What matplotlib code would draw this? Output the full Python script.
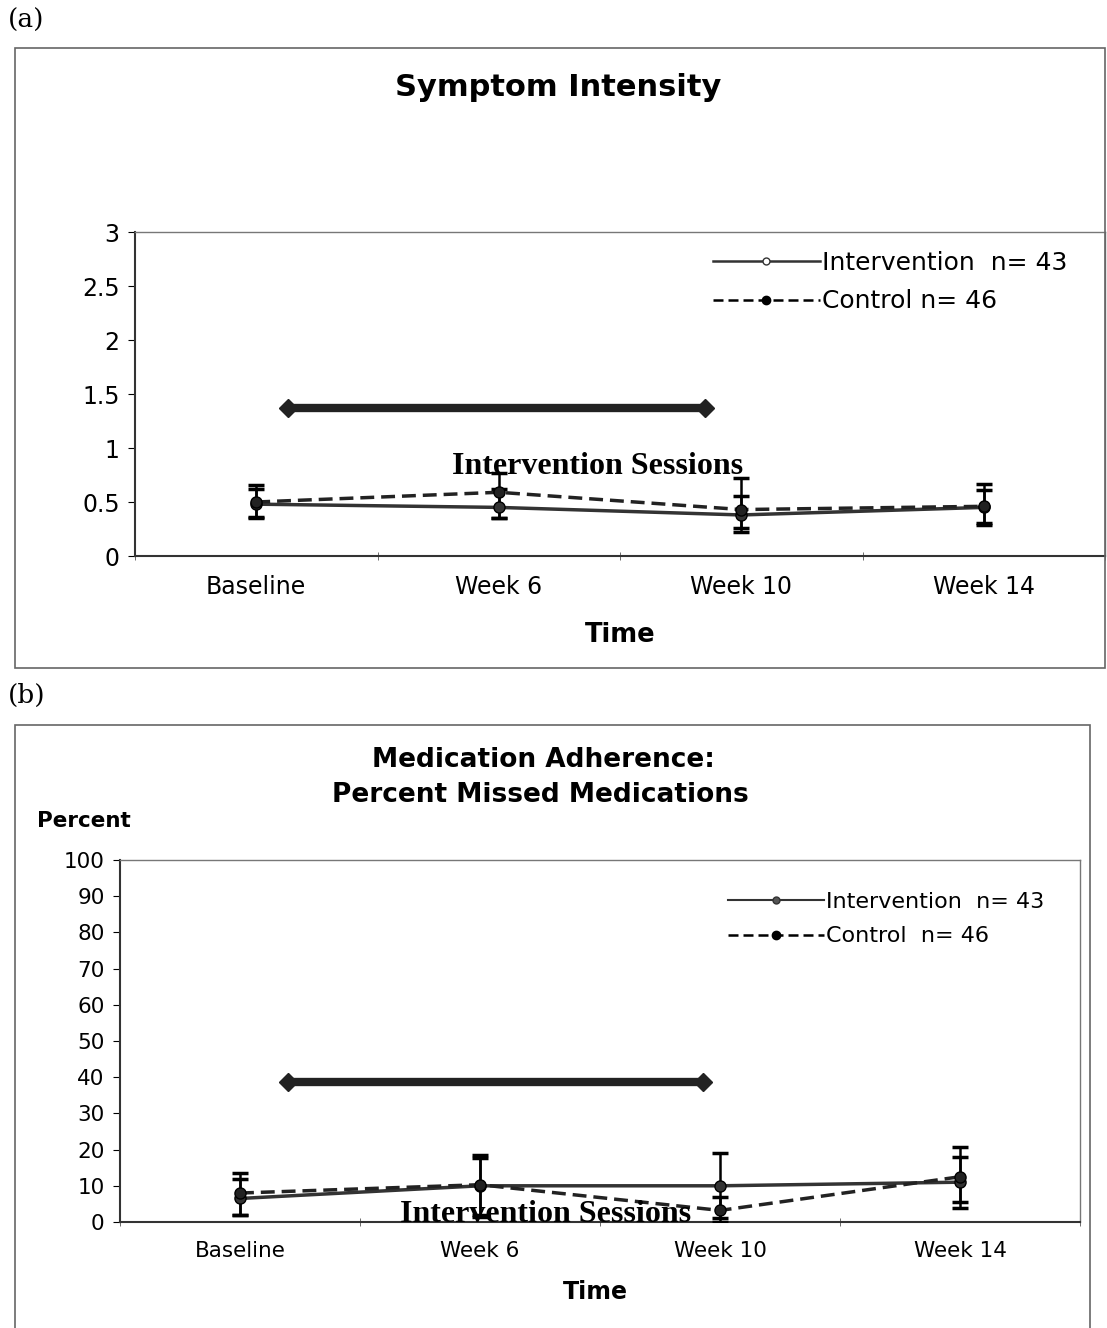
import matplotlib.pyplot as plt
from matplotlib.patches import Rectangle
from matplotlib.lines import Line2D
from matplotlib.ticker import FormatStrFormatter

W, H = 1107, 1328

weeks = ['Baseline', 'Week 6', 'Week 10', 'Week 14']

# (a) symptom intensity
sym_int = [0.48, 0.45, 0.38, 0.45]
sym_int_lo = [0.35, 0.35, 0.26, 0.31]
sym_int_hi = [0.62, 0.62, 0.56, 0.61]
sym_ctl = [0.50, 0.59, 0.43, 0.46]
sym_ctl_lo = [0.36, 0.35, 0.22, 0.29]
sym_ctl_hi = [0.66, 0.77, 0.72, 0.67]
sym_sessions = [0.13, 1.85]
sym_sessions_y = 1.37

# (b) percent missed medications
med_int = [6.5, 10.0, 10.0, 11.0]
med_int_lo = [2.0, 2.0, 1.0, 5.5]
med_int_hi = [12.0, 17.7, 19.0, 18.0]
med_ctl = [8.0, 10.3, 3.2, 12.5]
med_ctl_lo = [2.0, 1.5, 0.0, 4.0]
med_ctl_hi = [13.5, 18.5, 7.0, 20.7]
med_sessions = [0.2, 1.93]
med_sessions_y = 38.7


def px(x, y):
    return x / W, 1 - y / H


def box(x0, y0, x1, y1):
    return [x0 / W, 1 - y1 / H, (x1 - x0) / W, (y1 - y0) / H]


def draw_panel(ax, vi, vi_lo, vi_hi, vc, vc_lo, vc_hi, ses, ses_y, ymax, ystep, fs):
    x = list(range(len(weeks)))
    ax.errorbar(x, vi, yerr=[[a - b for a, b in zip(vi, vi_lo)], [b - a for a, b in zip(vi, vi_hi)]],
                color='#333333', lw=2.5, marker='o', ms=8, mfc='#333333', mec='black',
                ecolor='black', elinewidth=1.8, capsize=6, capthick=2.5, zorder=3)
    ax.errorbar(x, vc, yerr=[[a - b for a, b in zip(vc, vc_lo)], [b - a for a, b in zip(vc, vc_hi)]],
                color='#222222', lw=2.5, ls=(0, (4, 2)), marker='o', ms=8, mfc='#222222', mec='black',
                ecolor='black', elinewidth=1.8, capsize=6, capthick=2.5, zorder=3)
    ax.plot(ses, [ses_y, ses_y], color='#222222', lw=6, marker='D', ms=9, zorder=4, clip_on=False)
    ax.set_xlim(-0.5, 3.5)
    ax.set_ylim(0, ymax)
    ax.set_yticks([i * ystep for i in range(int(round(ymax / ystep)) + 1)])
    ax.yaxis.set_major_formatter(FormatStrFormatter('%g'))
    ax.set_xticks(x)
    ax.set_xticklabels(weeks, fontsize=fs)
    ax.set_xticks([-0.5, 0.5, 1.5, 2.5, 3.5], minor=True)
    ax.tick_params(axis='x', which='major', length=0, pad=14)
    ax.tick_params(axis='x', which='minor', length=6, direction='inout', color='#555555')
    ax.tick_params(axis='y', labelsize=fs, length=5, direction='out', pad=6)
    for s in ['top', 'right']:
        ax.spines[s].set_color('#777777')
        ax.spines[s].set_linewidth(1)
    for s in ['left', 'bottom']:
        ax.spines[s].set_color('#333333')
        ax.spines[s].set_linewidth(1.5)


fig = plt.figure(figsize=(W / 100, H / 100), dpi=100)

# outer frames
fig.patches.append(Rectangle(px(15, 668), 1090 / W, 620 / H, transform=fig.transFigure,
                             fill=False, ec='#666666', lw=1.2))
fig.patches.append(Rectangle(px(15, 1330), 1075 / W, 605 / H, transform=fig.transFigure,
                             fill=False, ec='#666666', lw=1.2))
fig.text(*px(8, 20), '(a)', family='DejaVu Serif', fontsize=19, va='center')
fig.text(*px(8, 695), '(b)', family='DejaVu Serif', fontsize=19, va='center')

# panel (a)
ax1 = fig.add_axes(box(135, 232, 1105, 556))
draw_panel(ax1, sym_int, sym_int_lo, sym_int_hi, sym_ctl, sym_ctl_lo, sym_ctl_hi,
           sym_sessions, sym_sessions_y, 3, 0.5, 17)
fig.text(*px(558, 87), 'Symptom Intensity', fontsize=22, weight='bold', ha='center', va='center')
fig.text(*px(620, 635), 'Time', fontsize=18.5, weight='bold', ha='center', va='center')
fig.text(*px(598, 467), 'Intervention Sessions', family='Liberation Serif', fontsize=23,
         weight='bold', ha='center', va='center')
h1 = [Line2D([], [], color='#333333', lw=1.8, marker='o', ms=5, mfc='white', mec='#333333'),
      Line2D([], [], color='black', lw=1.8, ls=(0, (4, 2)), marker='o', ms=6, mfc='black')]
ax1.legend(h1, ['Intervention  n= 43', 'Control n= 46'], loc='upper left',
           bbox_to_anchor=px(690, 228), bbox_transform=fig.transFigure, frameon=False,
           fontsize=18, handlelength=4.3, handletextpad=0.1, labelspacing=0.6)

# panel (b)
ax2 = fig.add_axes(box(120, 860, 1080, 1222))
draw_panel(ax2, med_int, med_int_lo, med_int_hi, med_ctl, med_ctl_lo, med_ctl_hi,
           med_sessions, med_sessions_y, 100, 10, 15.5)
fig.text(*px(543, 760), 'Medication Adherence:', fontsize=19, weight='bold', ha='center', va='center')
fig.text(*px(540, 795), 'Percent Missed Medications', fontsize=19, weight='bold', ha='center', va='center')
fig.text(*px(37, 821), 'Percent', fontsize=15.5, weight='bold', ha='left', va='center')
fig.text(*px(595, 1292), 'Time', fontsize=17, weight='bold', ha='center', va='center')
fig.text(*px(546, 1215), 'Intervention Sessions', family='Liberation Serif', fontsize=23,
         weight='bold', ha='center', va='center', zorder=5)
h2 = [Line2D([], [], color='#333333', lw=1.5, marker='o', ms=5, mfc='#555555', mec='#333333'),
      Line2D([], [], color='black', lw=1.8, ls=(0, (4, 2)), marker='o', ms=6, mfc='black')]
ax2.legend(h2, ['Intervention  n= 43', 'Control  n= 46'], loc='upper left',
           bbox_to_anchor=px(708, 872), bbox_transform=fig.transFigure, frameon=False,
           fontsize=16, handlelength=4.3, handletextpad=0.1, labelspacing=0.65)

fig.savefig('out.png', dpi=100)
